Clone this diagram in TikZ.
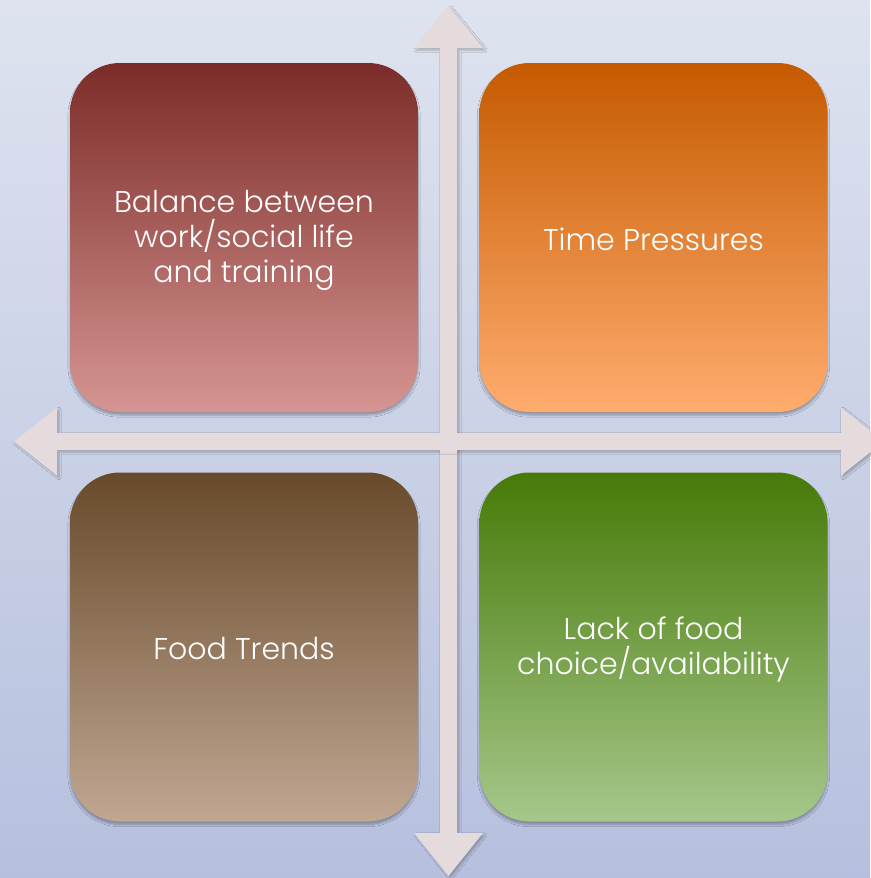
\documentclass[tikz,border=0pt]{standalone}
\usepackage{fontspec}
\setmainfont{Poppins}[UprightFont=* Light]
\usetikzlibrary{shadows.blur}
\definecolor{bgtop}{HTML}{DEE3EF}
\definecolor{bgbot}{HTML}{B6C0DE}
\definecolor{arrowfill}{HTML}{E5DBDC}
\definecolor{tltop}{HTML}{7B2C28}\definecolor{tlbot}{HTML}{D69592}
\definecolor{trtop}{HTML}{C55A00}\definecolor{trbot}{HTML}{FFAC6E}
\definecolor{bltop}{HTML}{684A2B}\definecolor{blbot}{HTML}{C0A792}
\definecolor{brtop}{HTML}{467A08}\definecolor{brbot}{HTML}{A6C78B}
\tikzset{
  quad/.style={rectangle, rounded corners=50pt, minimum width=348pt, minimum height=349pt,
    text=white, align=center, font=\fontsize{30}{35}\selectfont, inner sep=0pt,
    blur shadow={shadow xshift=0pt, shadow yshift=-3pt, shadow blur steps=6, shadow opacity=30}},
  qtext/.style={text=white, align=center, font=\fontsize{30}{35}\selectfont, inner sep=0pt},
  axisarrow/.style={fill=arrowfill, draw=none,
    blur shadow={shadow xshift=2pt, shadow yshift=-2pt, shadow blur steps=5, shadow opacity=25}}
}
\begin{document}
\begin{tikzpicture}[x=1pt,y=-1pt]
\useasboundingbox (0,0) rectangle (870,878);
\shade[top color=bgtop, bottom color=bgbot] (0,0) rectangle (870,878);
% axes
\fill[axisarrow] (448.5,6) -- (483,48) -- (457,48) -- (457,833) -- (483,833) -- (448.5,876)
  -- (414,833) -- (440,833) -- (440,48) -- (414,48) -- cycle;
\fill[axisarrow] (14,441.5) -- (57,407.5) -- (57,433) -- (841,433) -- (841,407.5) -- (884,441.5)
  -- (841,475.5) -- (841,450) -- (57,450) -- (57,475.5) -- cycle;
\fill[arrowfill] (440,430) rectangle (457,453);
% boxes
\node[quad, top color=tltop, bottom color=tlbot] (tl) at (244,237.5) {};
\node[quad, top color=trtop, bottom color=trbot] (tr) at (653.5,237.5) {};
\node[quad, top color=bltop, bottom color=blbot] (bl) at (244,647) {};
\node[quad, top color=brtop, bottom color=brbot] (br) at (653.5,647) {};
\node[qtext] (tlt) at ([yshift=-3pt]tl.center) {Balance between\\work/social life\\and training};
\node[qtext] (trt) at ([yshift=-2pt]tr.center) {Time Pressures};
\node[qtext] (blt) at ([yshift=-2pt]bl.center) {Food Trends};
\node[qtext] (brt) at ([yshift=-2pt]br.center) {Lack of food\\choice/availability};
\end{tikzpicture}
\end{document}
